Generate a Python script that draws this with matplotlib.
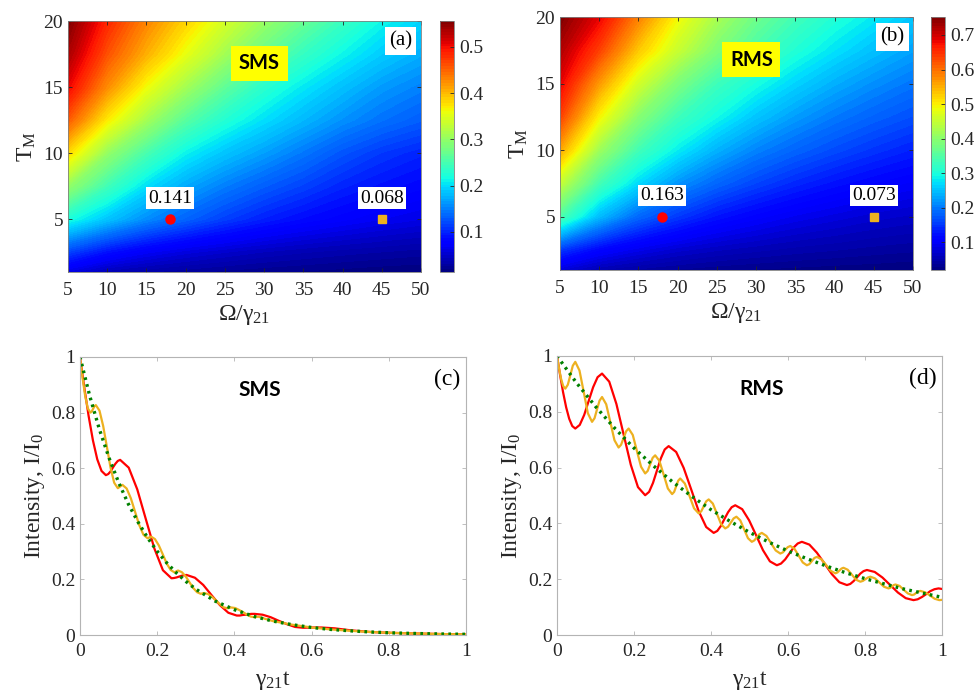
import numpy as np
import matplotlib
matplotlib.use("Agg")
import matplotlib.pyplot as plt
from matplotlib import font_manager as fm

# make sure the Times-like serif is registered
for f in fm.findSystemFonts():
    if 'liberationserif' in f.lower().replace(' ', '').replace('-', ''):
        fm.fontManager.addfont(f)

plt.rcParams['font.family'] = 'serif'
plt.rcParams['font.serif'] = ['Liberation Serif', 'DejaVu Serif']
plt.rcParams['mathtext.fontset'] = 'custom'
plt.rcParams['mathtext.rm'] = 'Liberation Serif'
plt.rcParams['mathtext.it'] = 'Liberation Serif'
plt.rcParams['mathtext.bf'] = 'Liberation Serif:bold'

# ---- maps: output ratio vs Omega/gamma21 and T_M
omega = [5, 10, 15, 20, 25, 30, 35, 40, 45, 50]
tm = [1, 2.5, 5, 7.5, 10, 12.5, 15, 17.5, 20]

sms_map = [
    [0.060, 0.040, 0.032, 0.027, 0.023, 0.020, 0.018, 0.016, 0.014, 0.013],
    [0.115, 0.088, 0.070, 0.058, 0.050, 0.043, 0.038, 0.034, 0.031, 0.028],
    [0.220, 0.185, 0.155, 0.133, 0.113, 0.097, 0.085, 0.076, 0.068, 0.062],
    [0.300, 0.245, 0.200, 0.170, 0.148, 0.130, 0.115, 0.100, 0.090, 0.082],
    [0.380, 0.300, 0.250, 0.210, 0.185, 0.165, 0.145, 0.125, 0.110, 0.100],
    [0.455, 0.370, 0.310, 0.260, 0.225, 0.200, 0.178, 0.158, 0.142, 0.130],
    [0.505, 0.425, 0.360, 0.310, 0.265, 0.230, 0.205, 0.183, 0.163, 0.150],
    [0.535, 0.460, 0.405, 0.355, 0.310, 0.270, 0.238, 0.212, 0.190, 0.173],
    [0.556, 0.485, 0.430, 0.385, 0.342, 0.303, 0.270, 0.240, 0.213, 0.195],
]
rms_map = [
    [0.078, 0.053, 0.042, 0.035, 0.030, 0.027, 0.025, 0.023, 0.022, 0.020],
    [0.150, 0.110, 0.088, 0.072, 0.062, 0.055, 0.049, 0.045, 0.041, 0.038],
    [0.343, 0.244, 0.185, 0.151, 0.124, 0.106, 0.092, 0.082, 0.073, 0.067],
    [0.448, 0.336, 0.268, 0.217, 0.184, 0.159, 0.139, 0.123, 0.110, 0.100],
    [0.555, 0.415, 0.334, 0.282, 0.238, 0.206, 0.183, 0.164, 0.148, 0.134],
    [0.635, 0.495, 0.395, 0.332, 0.292, 0.253, 0.223, 0.200, 0.182, 0.167],
    [0.685, 0.565, 0.460, 0.385, 0.331, 0.297, 0.264, 0.236, 0.214, 0.196],
    [0.720, 0.635, 0.530, 0.452, 0.388, 0.340, 0.305, 0.275, 0.249, 0.227],
    [0.752, 0.685, 0.585, 0.492, 0.425, 0.373, 0.335, 0.305, 0.280, 0.255],
]

# marked working points (Omega, T_M) and their values
pt_omega = [18, 45]
pt_tm = [5, 5]
sms_pts = [0.141, 0.068]
rms_pts = [0.163, 0.073]

# ---- time traces, panel (c) SMS
t_sms_red = [0, 0.0112, 0.0223, 0.0335, 0.0447, 0.0558, 0.067,
             0.0732, 0.0795, 0.0855, 0.0917, 0.0978, 0.104,
             0.1262, 0.1483, 0.1705, 0.1927, 0.2148, 0.237,
             0.2435, 0.25, 0.2565, 0.263, 0.2695, 0.276,
             0.2977, 0.3193, 0.341, 0.3627, 0.3843, 0.406,
             0.4137, 0.4213, 0.429, 0.4367, 0.4443, 0.452,
             0.473, 0.494, 0.515, 0.536, 0.557, 0.578, 0.6015, 0.625,
             0.66, 0.7, 0.75, 0.8, 0.85, 0.9, 0.95, 1.0]
i_sms_red = [1.0, 0.890, 0.788, 0.700, 0.632, 0.590, 0.575,
             0.579, 0.589, 0.603, 0.616, 0.626, 0.630,
             0.602, 0.524, 0.417, 0.311, 0.233, 0.204,
             0.205, 0.207, 0.210, 0.213, 0.215, 0.216,
             0.206, 0.180, 0.143, 0.107, 0.080, 0.070,
             0.070, 0.072, 0.073, 0.075, 0.076, 0.076,
             0.073, 0.064, 0.051, 0.039, 0.029, 0.026, 0.027, 0.027,
             0.024, 0.017, 0.011, 0.008, 0.006, 0.0045, 0.003, 0.0025]

t_sms_org = [0, 0.0068, 0.0135, 0.0203, 0.027, 0.0305, 0.034, 0.0375, 0.041,
             0.0505, 0.06, 0.0695, 0.079, 0.0885, 0.098, 0.104, 0.11,
             0.1208, 0.1317, 0.1425, 0.1533, 0.1642, 0.175, 0.1795, 0.184,
             0.1942, 0.2043, 0.2145, 0.2247, 0.2348, 0.245, 0.2495, 0.254,
             0.2638, 0.2737, 0.2835, 0.2933, 0.3032, 0.313, 0.3175, 0.322,
             0.3322, 0.3423, 0.3525, 0.3627, 0.3728, 0.383, 0.3875, 0.392,
             0.4022, 0.4123, 0.4225, 0.4327, 0.4428, 0.453, 0.4575, 0.462,
             0.48, 0.5, 0.55, 0.6, 0.65, 0.7, 0.75, 0.8, 0.85, 0.9, 0.95, 1.0]
i_sms_org = [1.0, 0.923, 0.859, 0.815, 0.800, 0.804, 0.814, 0.823, 0.827,
             0.807, 0.752, 0.678, 0.603, 0.548, 0.528, 0.534, 0.540,
             0.527, 0.492, 0.444, 0.396, 0.361, 0.348, 0.351, 0.354,
             0.345, 0.322, 0.290, 0.257, 0.234, 0.225, 0.229, 0.232,
             0.226, 0.211, 0.190, 0.169, 0.154, 0.148, 0.150, 0.151,
             0.147, 0.137, 0.124, 0.110, 0.099, 0.096, 0.098, 0.099,
             0.097, 0.090, 0.082, 0.073, 0.066, 0.064, 0.065, 0.066,
             0.058, 0.050, 0.037, 0.027, 0.020, 0.015, 0.011, 0.008, 0.006, 0.0045, 0.003, 0.0025]

t_sms_grn = [0, 0.025, 0.05, 0.075, 0.1, 0.125, 0.15, 0.175, 0.2, 0.225, 0.25, 0.275,
             0.3, 0.35, 0.4, 0.45, 0.5, 0.55, 0.6, 0.65, 0.7, 0.75, 0.8, 0.85, 0.9, 0.95, 1.0]
i_sms_grn = [1.0, 0.861, 0.741, 0.638, 0.549, 0.472, 0.407, 0.350, 0.301, 0.259, 0.223, 0.192,
             0.165, 0.122, 0.091, 0.067, 0.050, 0.037, 0.027, 0.020, 0.015, 0.011, 0.008, 0.006,
             0.0045, 0.0033, 0.0025]

# ---- time traces, panel (d) RMS
t_rms_red = [0, 0.0079, 0.0158, 0.0238, 0.0317, 0.0396, 0.0475,
             0.0591, 0.0707, 0.0823, 0.0938, 0.1054, 0.117,
             0.1357, 0.1543, 0.173, 0.1917, 0.2103, 0.229,
             0.2392, 0.2493, 0.2595, 0.2697, 0.2798, 0.29,
             0.3095, 0.329, 0.3485, 0.368, 0.3875, 0.407,
             0.4163, 0.4257, 0.435, 0.4443, 0.4537, 0.463,
             0.481, 0.499, 0.517, 0.535, 0.553, 0.571,
             0.5818, 0.5927, 0.6035, 0.6143, 0.6252, 0.636,
             0.6555, 0.675, 0.6945, 0.714, 0.7335, 0.753,
             0.7617, 0.7703, 0.779, 0.7877, 0.7963, 0.805,
             0.8252, 0.8453, 0.8655, 0.8857, 0.9058, 0.926,
             0.9368, 0.9477, 0.9585, 0.9693, 0.9802, 0.991, 1.0]
i_rms_red = [1.0, 0.933, 0.870, 0.816, 0.775, 0.749, 0.740,
             0.753, 0.789, 0.839, 0.888, 0.924, 0.937,
             0.908, 0.828, 0.719, 0.610, 0.530, 0.501,
             0.513, 0.545, 0.589, 0.633, 0.665, 0.677,
             0.656, 0.599, 0.522, 0.444, 0.387, 0.366,
             0.373, 0.391, 0.416, 0.440, 0.458, 0.465,
             0.451, 0.411, 0.358, 0.304, 0.264, 0.250,
             0.256, 0.271, 0.292, 0.313, 0.328, 0.334,
             0.324, 0.295, 0.257, 0.218, 0.189, 0.179,
             0.183, 0.193, 0.206, 0.220, 0.229, 0.233,
             0.226, 0.206, 0.179, 0.152, 0.132, 0.125,
             0.128, 0.136, 0.146, 0.157, 0.164, 0.167, 0.165]

t_rms_org = [0, 0.0054, 0.0108, 0.0162, 0.0216, 0.0281, 0.0346, 0.0410, 0.0475,
             0.0584, 0.0693, 0.0801, 0.091, 0.0975, 0.104, 0.1105, 0.117,
             0.1278, 0.1385, 0.1493, 0.16, 0.1665, 0.173, 0.1795, 0.186,
             0.1968, 0.2075, 0.2183, 0.229, 0.2355, 0.242, 0.2485, 0.255,
             0.266, 0.277, 0.288, 0.299, 0.3043, 0.3095, 0.3148, 0.32,
             0.332, 0.344, 0.356, 0.368, 0.3745, 0.381, 0.3875, 0.394,
             0.4048, 0.4155, 0.4263, 0.437, 0.4443, 0.4515, 0.4588, 0.466,
             0.476, 0.486, 0.496, 0.506, 0.5125, 0.519, 0.5255, 0.532,
             0.544, 0.556, 0.568, 0.58, 0.5865, 0.593, 0.5995, 0.606,
             0.6168, 0.6275, 0.6383, 0.649, 0.6555, 0.662, 0.6685, 0.675,
             0.687, 0.699, 0.711, 0.723, 0.7283, 0.7335, 0.7388, 0.744,
             0.755, 0.766, 0.777, 0.788, 0.7945, 0.801, 0.8075, 0.814,
             0.8258, 0.8375, 0.8493, 0.861, 0.8655, 0.87, 0.8745, 0.879,
             0.8898, 0.9005, 0.9113, 0.922, 0.9275, 0.933, 0.9385, 0.944,
             0.9563, 0.9685, 0.9808, 0.993, 1.0]
i_rms_org = [1.0, 0.955, 0.917, 0.892, 0.883, 0.897, 0.931, 0.965, 0.979,
             0.948, 0.872, 0.795, 0.764, 0.777, 0.809, 0.840, 0.853,
             0.827, 0.763, 0.698, 0.672, 0.682, 0.706, 0.730, 0.740,
             0.717, 0.660, 0.603, 0.579, 0.588, 0.612, 0.635, 0.644,
             0.624, 0.575, 0.525, 0.505, 0.513, 0.533, 0.553, 0.561,
             0.543, 0.499, 0.454, 0.436, 0.443, 0.461, 0.479, 0.486,
             0.471, 0.434, 0.397, 0.382, 0.388, 0.403, 0.418, 0.424,
             0.411, 0.379, 0.347, 0.334, 0.339, 0.350, 0.361, 0.366,
             0.355, 0.329, 0.303, 0.292, 0.296, 0.306, 0.315, 0.319,
             0.309, 0.285, 0.260, 0.250, 0.254, 0.265, 0.276, 0.280,
             0.271, 0.251, 0.230, 0.221, 0.224, 0.231, 0.238, 0.241,
             0.234, 0.216, 0.198, 0.191, 0.194, 0.200, 0.206, 0.209,
             0.203, 0.188, 0.173, 0.167, 0.169, 0.174, 0.179, 0.181,
             0.176, 0.162, 0.149, 0.143, 0.145, 0.151, 0.156, 0.158,
             0.153, 0.142, 0.130, 0.125, 0.126]

t_rms_grn = [0, 0.05, 0.1, 0.15, 0.2, 0.25, 0.3, 0.35, 0.4, 0.45, 0.5,
             0.55, 0.6, 0.65, 0.7, 0.75, 0.8, 0.85, 0.9, 0.95, 1.0]
i_rms_grn = [1.0, 0.905, 0.819, 0.741, 0.670, 0.607, 0.549, 0.497, 0.449, 0.407, 0.368,
             0.333, 0.301, 0.273, 0.247, 0.223, 0.202, 0.183, 0.165, 0.150, 0.135]

RED = (1.0, 0.0, 0.0)
ORANGE = (0.929, 0.694, 0.125)
GREEN = (0.0, 0.5, 0.0)
BOXC = '#b4b4b4'
TXTC = '#262626'

fig = plt.figure(figsize=(9.75, 6.97), dpi=100)

def heat(rect, crect, data, cticks, vals, tag, title):
    ax = fig.add_axes(rect)
    z = np.array(data)
    lv = np.linspace(z.min(), z.max(), 90)
    cf = ax.contourf(omega, tm, z, levels=lv, cmap='jet')
    ax.set_xlim(5, 50); ax.set_ylim(1, 20)
    ax.set_xticks(range(5, 55, 5)); ax.set_yticks([5, 10, 15, 20])
    ax.tick_params(direction='in', top=True, right=True, length=3,
                   labelsize=14, colors=TXTC, width=0.6)
    ax.tick_params(axis='x', pad=7)
    for s in ax.spines.values():
        s.set_color('#808080'); s.set_linewidth(0.6)
    ax.set_xlabel(r'$\Omega/\gamma_{21}$', fontsize=17, color=TXTC, labelpad=3)
    ax.set_ylabel(r'$T_M$', fontsize=17, color=TXTC, labelpad=4)
    ax.plot(pt_omega[0], pt_tm[0], 'o', color=RED, ms=6.5, mec=RED)
    ax.plot(pt_omega[1], pt_tm[1], 's', color=ORANGE, ms=5.5, mec=ORANGE)
    for xo, v in zip(pt_omega, vals):
        ax.text(xo, 6.6, f"{v:.3f}", ha='center', va='center', fontsize=14, color='k',
                bbox=dict(boxstyle='square,pad=0.12', fc='white', ec='none'))
    ax.text(47.4, 18.5, tag, ha='center', va='center', fontsize=15, color='k',
            bbox=dict(boxstyle='square,pad=0.2', fc='white', ec='none'))
    ax.text(29.4, 16.8, title, ha='center', va='center', fontsize=14.5, color='k',
            fontweight='bold', family='Lato',
            bbox=dict(boxstyle='square,pad=0.38', fc=(1, 1, 0), ec='none'))
    cax = fig.add_axes(crect)
    cb = fig.colorbar(cf, cax=cax, ticks=cticks)
    cb.ax.tick_params(direction='in', length=3, labelsize=14, colors=TXTC, width=0.6)
    cb.ax.set_yticklabels([f"{v:.1f}" for v in cticks])
    cb.outline.set_edgecolor('#808080'); cb.outline.set_linewidth(0.6)
    return ax

heat([68/975, 1 - 272/697, 353/975, 251/697], [440/975, 1 - 272/697, 14/975, 251/697],
     sms_map, [0.1, 0.2, 0.3, 0.4, 0.5], sms_pts, '(a)', 'SMS')
heat([560/975, 1 - 270/697, 353/975, 253/697], [931/975, 1 - 270/697, 14/975, 253/697],
     rms_map, [0.1, 0.2, 0.3, 0.4, 0.5, 0.6, 0.7], rms_pts, '(b)', 'RMS')

def trace(rect, tr, ir, to, io, tg, ig, tag, title, tx):
    ax = fig.add_axes(rect)
    ax.plot(tr, ir, color=RED, lw=1.6)
    ax.plot(to, io, color=ORANGE, lw=1.6)
    ax.plot(tg, ig, color=GREEN, lw=2.4, linestyle=(0, (0.8, 1.3)))
    ax.set_xlim(0, 1); ax.set_ylim(0, 1)
    ticks = [0, 0.2, 0.4, 0.6, 0.8, 1]
    labs = ['0', '0.2', '0.4', '0.6', '0.8', '1']
    ax.set_xticks(ticks); ax.set_xticklabels(labs)
    ax.set_yticks(ticks); ax.set_yticklabels(labs)
    ax.tick_params(direction='in', top=True, right=True, length=3,
                   labelsize=14, labelcolor=TXTC, color=BOXC, width=0.6)
    ax.tick_params(axis='x', pad=6)
    for s in ax.spines.values():
        s.set_color(BOXC); s.set_linewidth(0.8)
    ax.set_xlabel(r'$\gamma_{21}$t', fontsize=17, color=TXTC, labelpad=6)
    ax.set_ylabel(r'Intensity, I/I$_0$', fontsize=17, color=TXTC, labelpad=3)
    ax.text(tx, 0.88, title, ha='center', va='center', fontsize=15, color='k',
            fontweight='bold', family='Lato')
    ax.text(0.95, 0.92, tag, ha='center', va='center', fontsize=17, color='k')
    return ax

trace([80/975, 1 - 635/697, 386/975, 278/697], t_sms_red, i_sms_red, t_sms_org, i_sms_org,
      t_sms_grn, i_sms_grn, '(c)', 'SMS', 0.466)
trace([557/975, 1 - 635/697, 385/975, 279/697], t_rms_red, i_rms_red, t_rms_org, i_rms_org,
      t_rms_grn, i_rms_grn, '(d)', 'RMS', 0.532)

fig.savefig("out.png", dpi=100, facecolor='white')
